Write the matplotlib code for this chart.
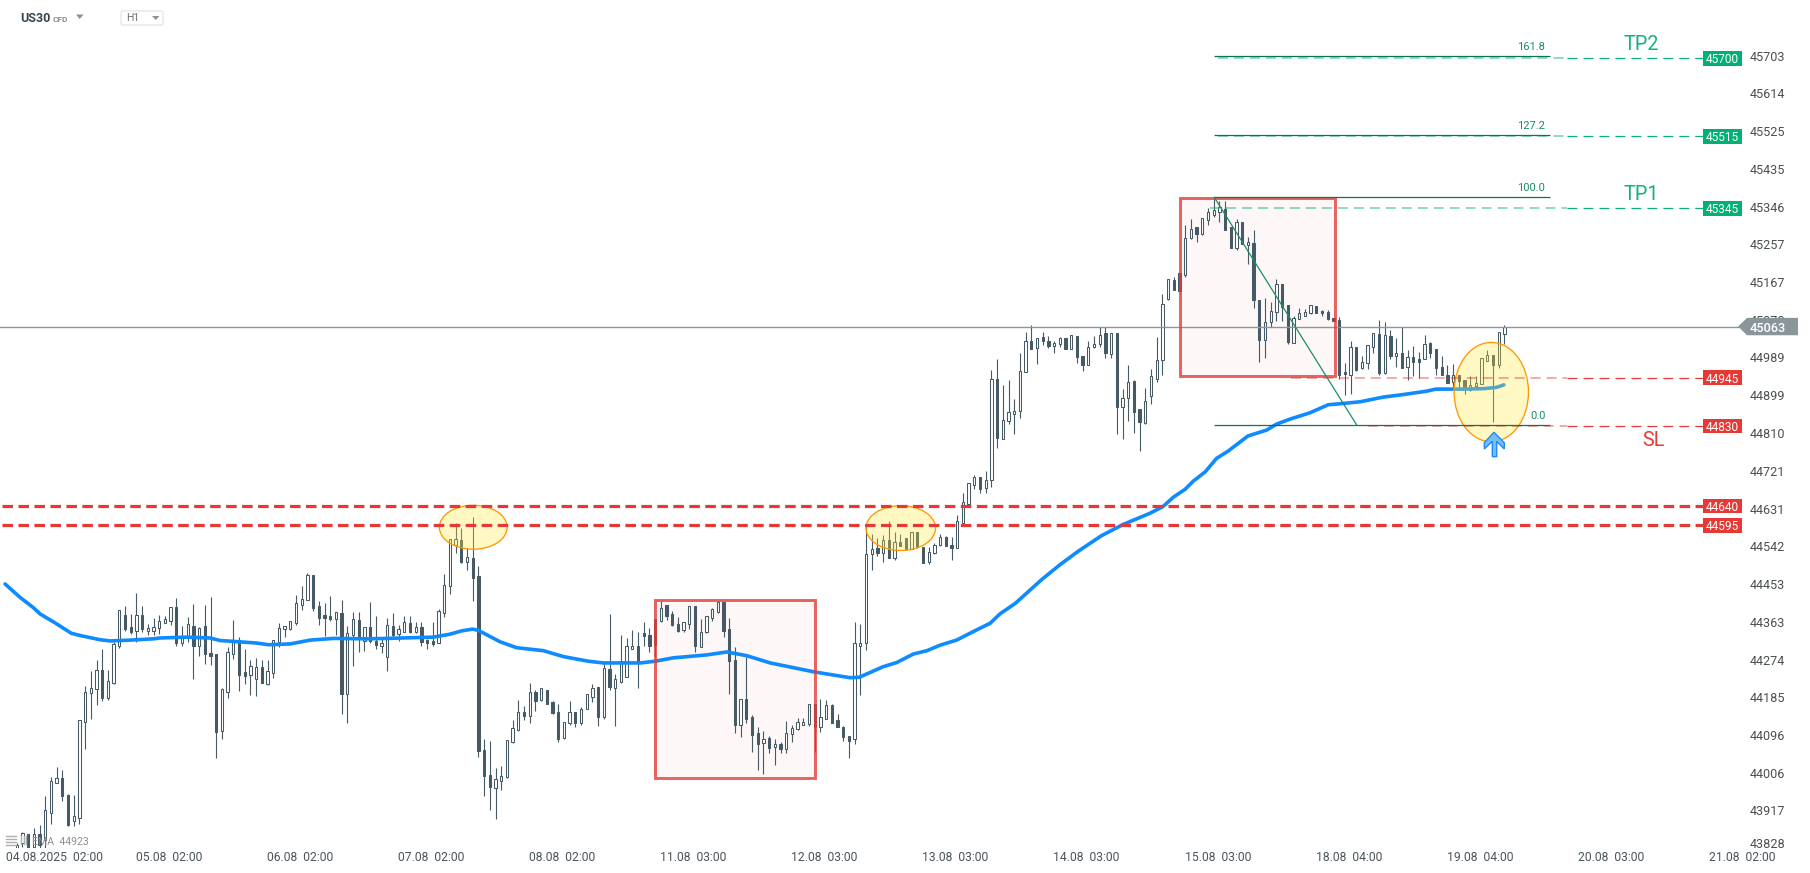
import matplotlib
matplotlib.use('Agg')
import matplotlib.pyplot as plt
from matplotlib.patches import Rectangle, Ellipse, Polygon, FancyBboxPatch
from matplotlib.transforms import Affine2D

plt.rcParams['font.family'] = ['Roboto', 'DejaVu Sans']
plt.rcParams['lines.scale_dashes'] = False

opens = [43827,43839,43860,43830,43860,43847,43912,43983,43993,43954,
         43893,43898,44126,44194,44205,44249,44183,44219,44305,44380,
         44351,44342,44380,44342,44342,44348,44361,44366,44398,44314,
         44328,44353,44305,44353,44290,44287,44106,44198,44288,44320,
         44245,44238,44228,44256,44216,44243,44315,44347,44346,44361,
         44404,44416,44474,44401,44380,44377,44371,44383,44193,44333,
         44368,44319,44351,44319,44307,44279,44353,44335,44339,44360,
         44338,44351,44320,44317,44313,44383,44449,44545,44556,44506,
         44514,44471,44059,44001,43969,43987,43995,44078,44107,44149,
         44141,44196,44179,44203,44173,44151,44088,44123,44151,44124,
         44158,44186,44209,44139,44251,44207,44221,44232,44300,44305,
         44337,44333,44370,44366,44403,44382,44358,44344,44359,44400,
         44304,44338,44373,44387,44410,44346,44273,44120,44180,44138,
         44100,44077,44088,44068,44073,44062,44098,44110,44120,44121,
         44169,44115,44134,44167,44131,44114,44092,44085,44307,44312,
         44523,44537,44525,44556,44515,44551,44561,44536,44575,44540,
         44504,44525,44544,44565,44545,44537,44597,44641,44688,44705,
         44681,44700,44937,44797,44839,44856,44861,44954,45027,45012,
         45037,45029,45017,45020,45034,45010,45039,44992,44972,45013,
         45020,45046,44998,45046,44871,44894,44933,44866,44834,44897,
         44939,44982,45127,45172,45189,45184,45271,45297,45281,45313,
         45327,45334,45340,45297,45249,45309,45256,45260,45125,45030,
         45072,45096,45162,45112,45022,45079,45088,45093,45111,45098,
         45097,45082,45078,44955,44948,45013,44963,44975,45013,45045,
         44953,45040,44993,44999,44967,44989,44985,44986,45024,45008,
         44966,44948,44931,44947,44935,44913,44921,44927,44981,44994,44970,45044]
closes = [43835,43863,43820,43860,43835,43918,43986,43993,43952,43883,
          43903,44130,44197,44206,44249,44183,44223,44311,44391,44346,
          44338,44380,44347,44348,44350,44365,44369,44398,44314,44328,
          44357,44305,44349,44288,44283,44103,44204,44291,44320,44238,
          44234,44258,44256,44219,44246,44320,44348,44353,44365,44407,
          44417,44474,44396,44373,44373,44370,44387,44193,44336,44369,
          44324,44351,44319,44309,44313,44355,44331,44346,44362,44339,
          44351,44316,44312,44311,44388,44450,44559,44559,44505,44516,
          44468,44058,43999,43973,43991,43999,44083,44111,44151,44140,
          44196,44177,44206,44169,44148,44087,44125,44151,44124,44158,
          44193,44206,44139,44253,44210,44227,44270,44305,44307,44270,
          44330,44307,44308,44397,44378,44356,44341,44364,44400,44306,
          44338,44377,44393,44409,44342,44271,44120,44180,44134,44096,
          44074,44087,44064,44073,44062,44100,44111,44125,44125,44169,
          44115,44138,44166,44124,44115,44091,44082,44312,44312,44523,
          44535,44527,44556,44515,44553,44543,44535,44575,44540,44503,
          44529,44546,44565,44543,44539,44601,44647,44691,44705,44678,
          44700,44937,44799,44842,44859,44861,44958,45029,45010,45034,
          45028,45017,45022,45034,45010,45041,44990,44972,45013,45020,
          45043,45000,45046,44872,44894,44930,44860,44837,44887,44944,
          44984,45116,45174,45149,45147,45271,45292,45280,45318,45332,
          45337,45346,45291,45249,45309,45258,45261,45126,45030,45072,
          45098,45162,45108,45026,45082,45094,45096,45112,45094,45093,
          45080,45076,44948,44949,45013,44959,44978,45018,45046,44951,
          45041,44993,45000,44965,44989,44978,44977,45020,45000,44963,
          44948,44929,44947,44932,44914,44923,44928,44988,44994,44971,45050,45060]
highs = [43839,43867,43860,43875,43883,43950,43995,44019,44013,43955,
         43954,44131,44212,44247,44272,44299,44249,44315,44391,44401,
         44382,44431,44401,44357,44372,44380,44377,44398,44420,44353,
         44374,44406,44352,44403,44422,44287,44206,44303,44368,44327,
         44299,44272,44278,44273,44272,44320,44360,44353,44365,44426,
         44447,44478,44474,44413,44407,44424,44387,44414,44354,44387,
         44387,44351,44410,44377,44328,44372,44383,44355,44377,44377,
         44363,44363,44322,44362,44394,44477,44559,44596,44585,44537,
         44611,44495,44085,44081,44017,44022,44084,44131,44178,44164,
         44218,44202,44206,44203,44175,44169,44125,44176,44151,44161,
         44193,44215,44209,44265,44381,44239,44331,44326,44344,44338,
         44362,44348,44370,44412,44404,44389,44374,44364,44400,44400,
         44370,44377,44395,44412,44410,44372,44303,44180,44279,44143,
         44114,44105,44093,44085,44078,44128,44119,44135,44135,44169,
         44169,44180,44178,44169,44145,44117,44092,44362,44358,44592,
         44571,44561,44569,44601,44576,44572,44561,44575,44575,44540,
         44541,44549,44572,44566,44565,44616,44669,44691,44711,44705,
         44720,44959,44985,44923,44935,44890,44999,45049,45066,45034,
         45049,45039,45028,45037,45034,45041,45039,44992,45029,45039,
         45062,45062,45046,45046,44914,44971,44935,44866,44916,44961,
         45037,45138,45174,45180,45189,45303,45316,45297,45318,45342,
         45366,45358,45358,45297,45317,45309,45273,45291,45125,45129,
         45121,45174,45162,45113,45086,45105,45104,45113,45111,45101,
         45101,45082,45084,44975,45028,45013,44993,45018,45046,45078,
         45072,45054,45034,45062,45007,45017,45001,45042,45026,45008,
         44992,44971,44973,44947,44935,44945,44945,44988,45007,44994,45050,45065]
lows = [43820,43831,43815,43820,43815,43820,43885,43983,43940,43881,
        43879,43885,44063,44134,44167,44177,44178,44216,44302,44342,
        44335,44316,44339,44332,44331,44335,44360,44356,44305,44307,
        44316,44228,44283,44264,44260,44040,44087,44183,44276,44200,
        44216,44190,44188,44218,44214,44230,44303,44327,44344,44355,
        44391,44416,44390,44356,44330,44365,44331,44145,44124,44259,
        44292,44294,44314,44298,44290,44247,44327,44317,44338,44337,
        44336,44305,44299,44307,44312,44375,44429,44525,44503,44486,
        44413,44044,43950,43917,43897,43965,43993,44077,44106,44131,
        44124,44152,44176,44169,44144,44079,44086,44120,44114,44118,
        44158,44174,44117,44133,44203,44117,44219,44232,44298,44207,
        44306,44292,44281,44363,44368,44353,44339,44338,44346,44292,
        44303,44337,44366,44383,44328,44193,44101,44091,44124,44056,
        44013,44004,44053,44025,44053,44052,44079,44107,44118,44117,
        44056,44102,44133,44123,44114,44081,44042,44075,44191,44296,
        44486,44518,44505,44515,44510,44543,44533,44535,44539,44503,
        44500,44524,44543,44543,44510,44537,44595,44639,44678,44669,
        44669,44683,44775,44795,44832,44808,44846,44954,45010,44974,
        45019,45012,45000,45014,45010,45010,44976,44957,44972,45012,
        45014,44988,44988,44808,44797,44839,44811,44768,44832,44879,
        44931,44948,45126,45149,45147,45180,45270,45263,45279,45303,
        45322,45310,45291,45249,45242,45258,45211,45107,44978,44988,
        45060,45074,45076,45021,45022,45079,45086,45092,45093,45088,
        45078,45076,44937,44899,44902,44957,44961,44962,45000,44947,
        44950,44985,44967,44963,44936,44945,44941,44985,44987,44948,
        44948,44929,44920,44914,44902,44910,44916,44926,44981,44836,44963,45021]

# EMA read at the bends of the curve, bar number / price
ema_bar = [-2.05,0.6,2.9,4.1,6.7,9.6,11.4,14.6,16.4,19.9,24,25.1,29.8,33.9,35.7,38,42.1,44.2,48,
           51.5,55.6,61.4,64.9,73.1,76,78.1,80,81,84.8,87.7,92.4,95.9,100.3,102.9,109.4,112,
           115.2,121.1,124.6,128.1,132.2,135.1,139.8,146.2,147.8,152,154.4,157.3,159.7,162,
           164.9,167.8,170.8,172.5,175.2,179.8,183,186.2,190.3,194,198.8,201.1,202.9,205,
           206.4,208.5,210.5,212.5,216,219.3,221,223.4,226.9,230.1,232.7,235.7,239.7,243.2,
           247.3,249,253.8,257.3,259.6,260.9]
ema_val = [44453,44421,44397,44382,44361,44336,44330,44321,44318,44320,44323,44325,44327,44325,
           44319,44317,44313,44309,44311,44320,44324,44323,44324,44327,44334,44342,44346,44343,
           44316,44302,44295,44281,44270,44266,44266,44270,44278,44285,44292,44283,44266,44258,
           44245,44231,44232,44257,44267,44287,44295,44308,44320,44340,44360,44382,44407,44463,
           44498,44530,44567,44593,44620,44636,44658,44677,44696,44718,44750,44767,44803,44817,
           44831,44843,44858,44877,44880,44884,44895,44901,44909,44914,44914,44915,44918,44924]

y_ticks = [45703,45614,45525,45435,45346,45257,45167,45078,44989,44899,44810,
           44721,44631,44542,44453,44363,44274,44185,44096,44006,43917,43840]
y_labels = ['45703','45614','45525','45435','45346','45257','45167','45078','44989','44899','44810',
            '44721','44631','44542','44453','44363','44274','44185','44096','44006','43917','43828']
x_ticks = [6.6] + [26.7 + 23 * k for k in range(13)]
x_labels = ['04.08.2025  02:00','05.08  02:00','06.08  02:00','07.08  02:00','08.08  02:00',
            '11.08  03:00','12.08  03:00','13.08  03:00','14.08  03:00','15.08  03:00',
            '18.08  04:00','19.08  04:00','20.08  03:00','21.08  02:00']

green_levels = [45697, 45512, 45342]
green_tags = ['45700', '45515', '45345']
red_levels = [44941, 44827]
red_tags = ['44945', '44830']
zone_levels = [44637, 44592]
zone_tags = ['44640', '44595']
fib_levels = [45702, 45515, 45368, 44828]
fib_names = ['161.8', '127.2', '100.0', '0.0']
last_price = 45062

W, H = 1810, 873
BAR0 = 16.7     # pixel of first candle
STEP = 5.7      # pixels per candle
PX_PER_PRICE = 0.4226


def bx(px):
    return (px - BAR0) / STEP


fig = plt.figure(figsize=(W / 100, H / 100), dpi=100, facecolor='white')
ax = fig.add_axes([0, (H - 848) / H, 1750 / W, 848 / H])
ax.set_xlim(bx(0), bx(1750))
ax.set_ylim(43828, 45703 + 55.7 / PX_PER_PRICE)
for s in ax.spines.values():
    s.set_visible(False)
ax.yaxis.tick_right()
ax.set_yticks(y_ticks, y_labels)
ax.set_xticks(x_ticks, x_labels)
ax.tick_params(axis='y', length=0, pad=0, labelsize=9.1, labelcolor='#4a4f52')
ax.tick_params(axis='x', length=0, pad=2.2, labelsize=8.75, labelcolor='#4a555b')

# pixel coordinates for the bits of interface around the chart
px = Affine2D().scale(1, -1).translate(0, H)

DARK = '#455a64'
RED = '#e53935'
GREEN = '#0db27a'
FIB = '#0a7555'

# red boxes
boxes = [(112, 140.1, 43993, 44416), (204.1, 231.2, 44944, 45366)]
for x0, x1, y0, y1 in boxes:
    ax.add_patch(Rectangle((x0, y0), x1 - x0, y1 - y0, fc='#fdf7f7', ec='none', zorder=0.5))
    ax.add_patch(Rectangle((x0, y0), x1 - x0, y1 - y0, fc='none', ec=RED, lw=2.1, alpha=0.8, zorder=4))

# candles
bars = list(range(len(opens)))
ax.vlines(bars, lows, highs, color=DARK, lw=0.8, zorder=2)
for i in bars:
    up = closes[i] >= opens[i]
    low, high = sorted((opens[i], closes[i]))
    ax.add_patch(Rectangle((i - 0.21, low), 0.42, high - low, fc='white' if up else DARK,
                           ec=DARK, lw=0.75, zorder=2.1))

ax.plot(ema_bar, ema_val, color='#0d8bff', lw=2.6, zorder=3, solid_capstyle='round')

# yellow circles
circles = [(80.1, 44587, 11.9, 104), (155.1, 44585, 12.2, 106), (258.7, 44907, 13.05, 235)]
for cx, cy, w, h in circles:
    ax.add_patch(Ellipse((cx, cy), w, h, fc=(1, 0.92, 0.23, 0.3), ec='#ff9800', lw=0.95, zorder=3.5))

# price levels with the small tags on the right
TAG_X = bx(1703)
TAG_W = 39 / STEP
TAG_H = 14.7 / PX_PER_PRICE


def tag(price, label, color):
    ax.add_patch(Rectangle((TAG_X, price - TAG_H / 2), TAG_W, TAG_H, fc=color, ec='none', zorder=6))
    ax.text(TAG_X + TAG_W / 2, price, label, color='white', fontsize=8.6, ha='center',
            va='center_baseline', zorder=7)


thin = (0, (7.2, 4.3))
for price, label, start in zip(green_levels, green_tags, [bx(1218), bx(1218), bx(1210)]):
    ax.plot([start, bx(1567)], [price, price], color=GREEN, lw=1.2, alpha=0.55, ls=thin, zorder=4.5)
    ax.plot([bx(1567), TAG_X], [price, price], color=GREEN, lw=0.9, ls=thin, zorder=4.5)
    tag(price, label, '#00b074')
for price, label, start in zip(red_levels, red_tags, [bx(1291), bx(1368)]):
    ax.plot([start, bx(1567)], [price, price], color=RED, lw=1.2, alpha=0.5, ls=thin, zorder=4.5)
    ax.plot([bx(1567), TAG_X], [price, price], color=RED, lw=0.9, ls=thin, zorder=4.5)
    tag(price, label, RED)
for price, label in zip(zone_levels, zone_tags):
    ax.plot([bx(2), TAG_X], [price, price], color=RED, lw=2.3, ls=(0, (7.6, 3.9)), zorder=4.5)
    tag(price, label, RED)

# fibonacci
fib_x0, fib_x1 = bx(1214.3), bx(1550)
ax.hlines(fib_levels, fib_x0, fib_x1, color=FIB, lw=0.9, zorder=5)
ax.plot([fib_x0, bx(1357)], [fib_levels[2], fib_levels[3]], color='#1b8f66', lw=0.9, zorder=5)
for price, name in zip(fib_levels, fib_names):
    ax.text(bx(1531) if name != '0.0' else bx(1538), price + 22, name, color='#1a8a68', fontsize=8,
            ha='center', va='center', zorder=6)

# current price
ax.plot([bx(0), bx(1738)], [last_price, last_price], color='#8b969b', lw=1.0, zorder=3.2)
half = 8.7 / PX_PER_PRICE
ax.add_patch(Polygon([(bx(1738), last_price), (bx(1747), last_price + half), (bx(1798), last_price + half),
                      (bx(1798), last_price - half), (bx(1747), last_price - half)],
                     fc='#8b969b', ec='none', clip_on=False, zorder=8))
ax.text(bx(1750), last_price, '45063', color='white', fontsize=9.2, ha='left', va='center_baseline',
        fontweight='medium', clip_on=False, zorder=9)

# TP / SL captions
ax.text(1641, 45, 'TP2', transform=px, color='#14b083', fontsize=14.2, ha='center', va='center', zorder=6)
ax.text(1641, 195, 'TP1', transform=px, color='#14b083', fontsize=14.2, ha='center', va='center', zorder=6)
ax.text(1653, 441, 'SL', transform=px, color=RED, fontsize=14.2, ha='center', va='center', zorder=6)

# arrow
arrow = [(1494, 432.3), (1504.3, 442.7), (1504.3, 449), (1496.7, 441.3), (1496.7, 456.7),
         (1492.3, 456.7), (1492.3, 441.3), (1484.3, 449), (1484.3, 442.7)]
ax.add_patch(Polygon(arrow, transform=px, fc='#78bdf0', ec='#1a8cff', lw=1.0, clip_on=False, zorder=6))

# header
ax.text(20, 18, 'US30', transform=px, color='#37474f', fontsize=9, fontweight='bold', va='center', zorder=7)
ax.text(53, 19, 'CFD', transform=px, color='#8c8c8c', fontsize=6, fontweight='bold', va='center', zorder=7)
ax.add_patch(Polygon([(76, 14.5), (83.5, 14.5), (79.7, 19)], transform=px, fc='#909090', ec='none', zorder=7))
ax.add_patch(FancyBboxPatch((121, 11), 42, 14, boxstyle='round,pad=0,rounding_size=2', transform=px,
                            fc='white', ec='#e4e4e4', lw=0.9, zorder=7))
ax.text(126, 18, 'H1', transform=px, color='#707070', fontsize=7.5, va='center', zorder=8)
ax.add_patch(Polygon([(152, 16), (159.5, 16), (155.7, 20)], transform=px, fc='#909090', ec='none', zorder=8))

# indicator legend, bottom left
for y in (836, 839, 842, 845):
    ax.plot([6, 16], [y, y], transform=px, color='#b0b0b0', lw=1.0, zorder=7)
for x in (21, 23.5, 26):
    ax.plot([x, x], [836, 844], transform=px, color='#b0b0b0', lw=1.0, zorder=7)
ax.text(32, 842, 'EMA  44923', transform=px, color='#8f8f8f', fontsize=7.6, va='center', zorder=7)

fig.savefig('out.png', dpi=100)
